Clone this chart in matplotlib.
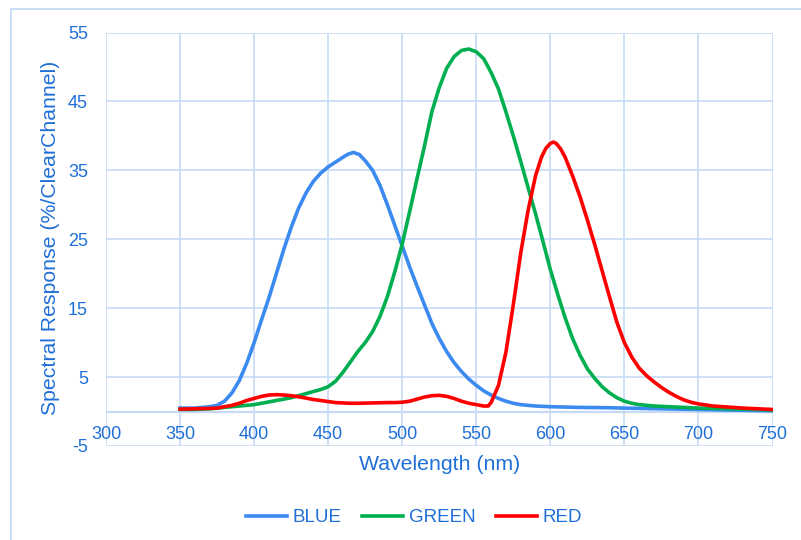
import matplotlib
matplotlib.use("Agg")
import matplotlib.pyplot as plt
from matplotlib.patches import Rectangle

plt.rcParams['font.family'] = ['Liberation Sans', 'DejaVu Sans']
plt.rcParams['axes.unicode_minus'] = False

wl_blue = [350, 355, 360, 365, 370, 375, 380, 385, 390, 395, 400, 405, 410, 415, 420, 425, 430, 435, 440, 445,
           450, 455, 460, 463, 467, 471, 475, 480, 485, 490, 495, 500, 505, 510, 515, 520, 525, 530, 535, 540, 545,
           550, 555, 560, 565, 570, 575, 580, 585, 590, 595, 600, 610, 620, 630, 640, 650, 675, 700, 725, 750]
blue = [0.5, 0.5, 0.5, 0.6, 0.7, 0.9, 1.5, 2.7, 4.5, 7.0, 10.0, 13.3, 16.5, 20.0, 23.5, 26.7, 29.5, 31.7, 33.4, 34.6,
        35.5, 36.2, 36.9, 37.3, 37.6, 37.3, 36.4, 35.0, 32.8, 30.0, 27.0, 24.0, 21.0, 18.2, 15.5, 12.8, 10.6, 8.7, 7.1, 5.8, 4.7,
        3.8, 3.0, 2.4, 1.9, 1.5, 1.2, 1.0, 0.9, 0.8, 0.75, 0.7, 0.65, 0.6, 0.58, 0.55, 0.5, 0.4, 0.3, 0.2, 0.1]

wl_green = [350, 360, 370, 375, 380, 385, 390, 395, 400, 405, 410, 415, 420, 425, 430, 435, 440, 445,
            450, 455, 460, 465, 470, 475, 480, 485, 490, 495, 500, 505, 510, 515, 520, 525, 530, 535, 540, 545,
            550, 555, 560, 565, 570, 575, 580, 585, 590, 595, 600, 605, 610, 615, 620, 625, 630, 635, 640, 645,
            650, 655, 660, 670, 680, 690, 700, 720, 740, 750]
green = [0.3, 0.3, 0.4, 0.5, 0.6, 0.7, 0.8, 0.9, 1.0, 1.2, 1.4, 1.6, 1.8, 2.0, 2.3, 2.6, 2.9, 3.2,
         3.6, 4.4, 5.7, 7.2, 8.7, 10.0, 11.6, 13.8, 16.7, 20.3, 24.3, 29.0, 33.8, 38.5, 43.5, 47.0, 49.8, 51.5, 52.4, 52.6,
         52.2, 51.2, 49.2, 46.8, 43.5, 40.0, 36.3, 32.5, 28.7, 24.7, 20.6, 17.0, 13.6, 10.6, 8.2, 6.2, 4.8, 3.6, 2.7, 2.0,
         1.5, 1.2, 1.0, 0.8, 0.7, 0.6, 0.5, 0.4, 0.3, 0.2]

wl_red = [350, 360, 370, 375, 380, 385, 390, 395, 400, 405, 410, 415, 420, 425, 430, 435, 440, 445,
          450, 455, 460, 465, 470, 480, 490, 495, 500, 505, 510, 515, 520, 525, 530, 535, 540, 545,
          550, 555, 558, 560, 565, 570, 575, 580, 585, 590, 594, 597, 600, 602, 604, 607, 610, 615, 620, 625, 630,
          635, 640, 645, 650, 655, 660, 665, 670, 675, 680, 685, 690, 695, 700, 710, 720, 730, 740, 750]
red = [0.35, 0.4, 0.45, 0.5, 0.7, 0.9, 1.2, 1.6, 1.9, 2.2, 2.4, 2.45, 2.4, 2.3, 2.15, 1.95, 1.75, 1.6,
       1.45, 1.3, 1.25, 1.2, 1.2, 1.25, 1.3, 1.3, 1.35, 1.5, 1.8, 2.1, 2.3, 2.35, 2.2, 1.9, 1.5, 1.2,
       1.0, 0.8, 0.8, 1.3, 3.8, 8.6, 15.5, 23.0, 29.2, 34.2, 36.9, 38.2, 38.9, 39.1, 38.9, 38.1, 36.9, 34.2, 31.2, 27.8, 24.2,
       20.4, 16.6, 12.9, 10.0, 7.9, 6.3, 5.2, 4.3, 3.5, 2.8, 2.2, 1.7, 1.35, 1.1, 0.8, 0.65, 0.5, 0.4, 0.3]

x_ticks = [300, 350, 400, 450, 500, 550, 600, 650, 700, 750]
y_ticks = [-5, 5, 15, 25, 35, 45, 55]
series_names = ["BLUE", "GREEN", "RED"]

TEXT = '#1F6FD8'
GRID = '#C6DAF6'
W, H = 801, 540

fig = plt.figure(figsize=(W / 100, H / 100), dpi=100)
fig.patches.append(Rectangle((11 / W, -1.0), 2.0, 2.0 - 9 / H, transform=fig.transFigure,
                             fill=False, edgecolor=GRID, linewidth=1.3, zorder=0))

left, right, top, bottom = 106, 772.5, 32.5, 446
ax = fig.add_axes([left / W, 1 - bottom / H, (right - left) / W, (bottom - top) / H])

ax.plot(wl_blue, blue, color='#3A8AF0', lw=2.6, label=series_names[0], solid_joinstyle='round', zorder=3)
ax.plot(wl_green, green, color='#00B050', lw=2.6, label=series_names[1], solid_joinstyle='round', zorder=3)
ax.plot(wl_red, red, color='#FF0000', lw=2.6, label=series_names[2], solid_joinstyle='round', zorder=4)

ax.set_xlim(300, 750)
ax.set_ylim(-5, 55)
ax.set_xticks(x_ticks)
ax.set_yticks(y_ticks)
ax.grid(True, color=GRID, lw=1.2)
ax.set_axisbelow(True)
ax.axhline(0, color=GRID, lw=1.6, zorder=1)
for s in ax.spines.values():
    s.set_visible(False)
ax.spines['bottom'].set_position(('data', 0))

ax.tick_params(axis='x', length=0, pad=10.5, labelsize=13, labelcolor=TEXT)
ax.tick_params(axis='y', length=0, pad=13, labelsize=13, labelcolor=TEXT)

fig.text(439.5 / W, 1 - 470 / H, "Wavelength (nm)", ha='center', va='baseline',
         fontsize=15.3, color=TEXT)
fig.text(51 / W, 1 - 238 / H, "Spectral Response (%/ClearChannel)", ha='center', va='center',
         rotation=90, fontsize=15.3, color=TEXT)

leg = fig.legend(loc='center', bbox_to_anchor=(414 / W, 1 - 517.7 / H), ncol=3, frameon=False,
                 fontsize=13.5, handlelength=2.2, handletextpad=0.3, columnspacing=1.1, labelcolor=TEXT)

fig.savefig("out.png", dpi=100)
